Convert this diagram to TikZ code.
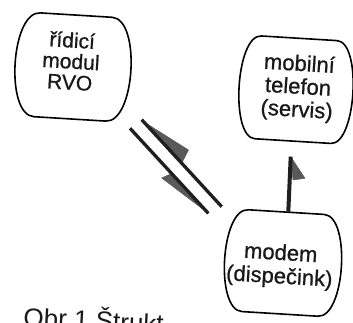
\documentclass[tikz,border=0pt]{standalone}
\usepackage{fontspec}
\setmainfont{Liberation Sans}
\newfontfamily\scanfont[FakeBold=0.9]{Liberation Sans}
\begin{document}
\begin{tikzpicture}[x=1pt,y=1pt,
  boxline/.style={line width=1.6pt, draw=black, line join=round},
  boxtext/.style={align=center, inner sep=0pt, text=black!90},
  bolt/.style={line width=3.3pt, draw=black!88},
  flag/.style={fill=black!65, draw=black!65, line width=0.5pt, line join=round},
  pics/termbox/.style args={#1/#2/#3}{code={
    \draw[boxline] (-#1,#3) -- (#1,#3)
      .. controls ({#1+(#2-#1)/0.75},#3) and ({#1+(#2-#1)/0.75},-#3) .. (#1,-#3)
      -- (-#1,-#3)
      .. controls ({-#1-(#2-#1)/0.75},-#3) and ({-#1-(#2-#1)/0.75},#3) .. cycle;
  }}]
\useasboundingbox (0,0) rectangle (353,323);
\clip (0,0) rectangle (353,323);

% boxes
\pic[rotate=-3.5] at (73,256) {termbox=36/58/52};
\pic[rotate=-3.5] at (296,233.3) {termbox=38/57/51.5};
\pic[rotate=-3.5] at (283,60) {termbox=38/58.5/51};

\node[boxtext, rotate=-3.5, font=\scanfont\fontsize{21}{21}\selectfont] (rvo) at (71,262) {řídicí\\modul\\RVO};
\node[boxtext, rotate=-3.5, font=\scanfont\fontsize{22}{23}\selectfont] (tel) at (298,235) {mobilní\\telefon\\(servis)};
\node[boxtext, rotate=-3.5, font=\scanfont\fontsize{22}{23.5}\selectfont] (modem) at (280,57) {modem\\(dispečink)};

% radio link (two half-arrows)
\coordinate (b1s) at (141.7,203.3);
\coordinate (b1e) at (221.7,116.3);
\coordinate (b2s) at (130,194.7);
\coordinate (b2e) at (208.3,109.7);
\fill[flag] (143.3,201.5) -- (188.5,173) -- (181.7,159.8) -- cycle;
\fill[flag] (b2e) -- (161.7,145) -- (171.7,149.5) -- cycle;
\draw[bolt] (b1s) -- (b1e);
\draw[bolt] (b2s) -- (b2e);

% modem -> phone
\coordinate (vs) at (288.3,111.3);
\coordinate (ve) at (290.7,166.3);
\fill[flag] (ve) -- (305,144.7) -- (293,143) -- cycle;
\draw[line width=4pt, draw=black!88] (vs) -- (ve);

% caption (cut off at the bottom edge)
\node[anchor=base west, inner sep=0pt, rotate=-3, font=\fontsize{26}{28}\selectfont, text=black!90] (cap) at (23,-3) {Obr 1 Štrukt};
\end{tikzpicture}
\end{document}
